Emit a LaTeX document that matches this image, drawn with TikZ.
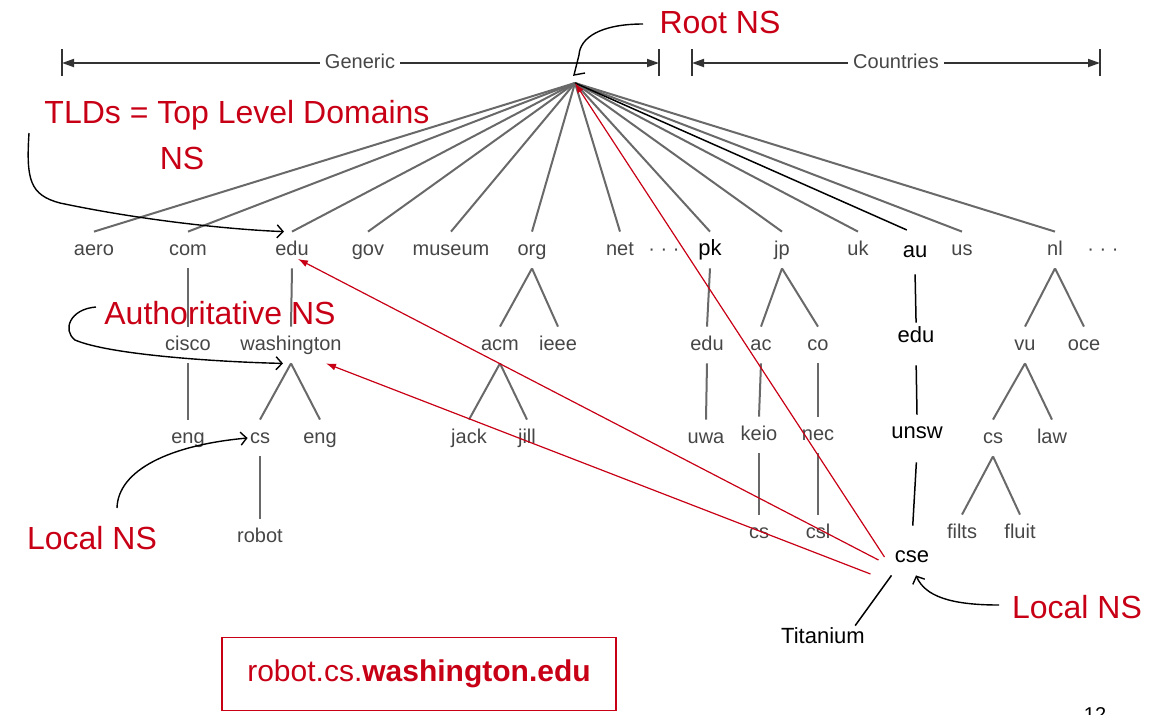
\documentclass[tikz,border=0pt]{standalone}
\usepackage{fontspec}
\setmainfont{Liberation Sans}
\usetikzlibrary{arrows.meta}
\definecolor{nsred}{RGB}{200,0,22}
\definecolor{lblgray}{RGB}{70,70,70}
\definecolor{lngray}{RGB}{105,105,105}
\begin{document}
\begin{tikzpicture}[x=0.5pt,y=-0.5pt,
  lbl/.style={text=lblgray, font=\fontsize{10}{12}\selectfont, text height=7pt, text depth=2pt, inner ysep=4.5pt, inner xsep=1pt},
  blbl/.style={lbl, text=black, font=\fontsize{11}{13}\selectfont},
  barlbl/.style={lbl, inner xsep=2.5pt},
  redt/.style={text=nsred, font=\fontsize{16}{19}\selectfont, text height=11.5pt, text depth=0pt, inner sep=0pt},
  gline/.style={draw=lngray, line width=1pt},
  bline/.style={draw=black, line width=0.75pt},
  rarr/.style={draw=nsred, line width=0.6pt, -{Latex[length=5pt,width=3.5pt]}},
  narr/.style={draw=black, line width=0.7pt, -{Straight Barb[length=3pt,width=6.5pt]}},
  barline/.style={draw=black!80, line width=0.9pt},
  bartip/.style={barline, -{Triangle[length=6pt,width=4pt]}},
]
\useasboundingbox (0,0) rectangle (1158,714);

% ---- bars
\node[barlbl] (gen) at (360,63) {Generic};
\coordinate (gl) at (62,63); \coordinate (gr) at (659,63);
\coordinate (glt) at (62,49); \coordinate (glb) at (62,76);
\coordinate (grt) at (659,49); \coordinate (grb) at (659,76);
\draw[bartip] (gen.west) -- (gl);
\draw[bartip] (gen.east) -- (gr);
\draw[barline] (glt) -- (glb);
\draw[barline] (grt) -- (grb);
\node[barlbl] (cty) at (896,63) {Countries};
\coordinate (cl) at (692,63); \coordinate (cr) at (1100,63);
\coordinate (clt) at (692,49); \coordinate (clb) at (692,76);
\coordinate (crt) at (1100,49); \coordinate (crb) at (1100,76);
\draw[bartip] (cty.west) -- (cl);
\draw[bartip] (cty.east) -- (cr);
\draw[barline] (clt) -- (clb);
\draw[barline] (crt) -- (crb);

% ---- root
\coordinate (root) at (575,83);

% ---- level 1
\node[lbl] (aero) at (94,250) {aero};
\node[lbl] (com) at (188,250) {com};
\node[lbl] (edu) at (292,250) {edu};
\node[lbl] (gov) at (368,250) {gov};
\node[lbl] (museum) at (451,250) {museum};
\node[lbl] (org) at (532,250) {org};
\node[lbl] (net) at (620,250) {net};
\node[lbl] (dotsa) at (664,250) {· · ·};
\node[blbl] (pk) at (710,250) {pk};
\node[lbl] (jp) at (782,250) {jp};
\node[lbl] (uk) at (858,250) {uk};
\node[blbl] (au) at (915,252) {au};
\node[lbl] (us) at (962,250) {us};
\node[lbl] (nl) at (1055,250) {nl};
\node[lbl] (dotsb) at (1103,250) {· · ·};

% ---- level 2
\node[lbl] (cisco) at (188,345) {cisco};
\node[lbl] (wash) at (291,345) {washington};
\node[lbl] (acm) at (500,345) {acm};
\node[lbl] (ieee) at (558,345) {ieee};
\node[lbl] (pkedu) at (707,345) {edu};
\node[lbl] (ac) at (761,345) {ac};
\node[lbl] (co) at (818,345) {co};
\node[blbl] (auedu) at (916,337) {edu};
\node[lbl] (vu) at (1025,345) {vu};
\node[lbl] (oce) at (1084,345) {oce};

% ---- level 3
\node[lbl] (engA) at (188,438) {eng};
\node[lbl] (csA) at (260,438) {cs};
\node[lbl] (engB) at (320,438) {eng};
\node[lbl] (jack) at (469,438) {jack};
\node[lbl] (jill) at (527,438) {jill};
\node[lbl] (uwa) at (706,438) {uwa};
\node[lbl] (keio) at (759,435) {keio};
\node[lbl] (nec) at (818,435) {nec};
\node[blbl] (unsw) at (917,433) {unsw};
\node[lbl] (csC) at (993,438) {cs};
\node[lbl] (law) at (1052,438) {law};

% ---- level 4
\node[lbl] (robot) at (260,537) {robot};
\node[lbl] (csB) at (759,533) {cs};
\node[lbl] (csl) at (818,533) {csl};
\node[lbl] (filts) at (962,533) {filts};
\node[lbl] (fluit) at (1020,533) {fluit};
\node[blbl] (cse) at (912,557) {cse};
\node[blbl] (tit) at (823,638) {Titanium};

% ---- fan from root
\foreach \t in {aero,com,edu,gov,museum,org,net,pk,jp,uk,us,nl}
  \draw[gline] (root) -- (\t.north);
\draw[bline, shorten >=4.5pt] (root) -- (au.north);

% ---- tree edges
\draw[gline] (com.south) -- (cisco.north);
\draw[gline] (edu.south) -- (wash.north);
\draw[gline] (cisco.south) -- (engA.north);
\draw[gline] (wash.south) -- (csA.north);
\draw[gline] (wash.south) -- (engB.north);
\draw[gline] (csA.south) -- (robot.north);
\draw[gline] (org.south) -- (acm.north);
\draw[gline] (org.south) -- (ieee.north);
\draw[gline] (acm.south) -- (jack.north);
\draw[gline] (acm.south) -- (jill.north);
\draw[gline] (pk.south) -- (pkedu.north);
\draw[gline] (pkedu.south) -- (uwa.north);
\draw[gline] (jp.south) -- (ac.north);
\draw[gline] (jp.south) -- (co.north);
\draw[gline] (ac.south) -- (keio.north);
\draw[gline] (keio.south) -- (csB.north);
\draw[gline] (co.south) -- (nec.north);
\draw[gline] (nec.south) -- (csl.north);
\draw[gline] (nl.south) -- (vu.north);
\draw[gline] (nl.south) -- (oce.north);
\draw[gline] (vu.south) -- (csC.north);
\draw[gline] (vu.south) -- (law.north);
\draw[gline] (csC.south) -- (filts.north);
\draw[gline] (csC.south) -- (fluit.north);
\draw[bline, shorten <=2pt, shorten >=-2pt] (au.south) -- (auedu.north);
\draw[bline, shorten <=5pt] (auedu.south) -- (unsw.north);
\draw[bline, shorten <=5.5pt, shorten >=6.5pt] (unsw.south) -- (cse.north);
\draw[bline] ([xshift=-0.5pt]cse.south west) -- ([xshift=-6pt,yshift=-3pt]tit.north east);

% ---- red query arrows
\draw[rarr] ([xshift=-4pt]cse.west) -- (root);
\draw[rarr] ([xshift=-7pt,yshift=-1.5pt]cse.west) -- ([xshift=3pt,yshift=-4.5pt]edu.center);
\draw[rarr] ([xshift=-11pt,yshift=-8.5pt]cse.west) -- ([xshift=-9pt]wash.south east);

% ---- red annotations
\node[redt] (rootns) at (720,22) {Root NS};
\node[redt] (tldA) at (237,112) {TLDs = Top Level Domains};
\node[redt] (tldB) at (182,158) {NS};
\node[redt] (auth) at (220,313) {Authoritative NS};
\node[redt] (lnsA) at (92,538) {Local NS};
\node[redt] (lnsB) at (1077,607) {Local NS};

% ---- annotation pointers
\coordinate (rnsS) at (643,24);
\coordinate (rnsA) at (579,55);
\coordinate (rnsB) at (574,75);
\coordinate (rnsC) at (585,73);
\draw[bline, line width=0.7pt] (rnsS) .. controls (600,24) and (580,38) .. (rnsA) -- (rnsB) -- (rnsC);
\coordinate (tldS) at (29,133);
\coordinate (tldM) at (60,203);
\draw[narr] (tldS) .. controls (26,180) and (30,195) .. (tldM) .. controls (150,222) and (240,230) .. ([xshift=-4pt]edu.north);
\coordinate (authS) at (96,307);
\coordinate (authM) at (75,340);
\draw[narr] (authS) .. controls (70,309) and (62,330) .. (authM) .. controls (110,355) and (220,362) .. ([xshift=-4pt]wash.south);
\coordinate (lnsAS) at (117,508);
\draw[narr] (lnsAS) .. controls (118,470) and (170,445) .. (csA.west);
\coordinate (lnsBS) at (999,605);
\draw[narr] (lnsBS) .. controls (950,605) and (925,596) .. ([xshift=2pt]cse.south);

% ---- name box
\node[draw=nsred, line width=0.6pt, minimum width=197pt, minimum height=36.5pt, inner sep=0pt, text=nsred, font=\fontsize{15}{18}\selectfont] (box) at (419,674) {robot.cs.\textbf{washington.edu}};

% ---- page number (cut off at the lower edge, as in the reference)
\node[anchor=base, font=\fontsize{10}{12}\selectfont, inner sep=0pt] (pg) at (1095,721) {12};
\end{tikzpicture}
\end{document}
